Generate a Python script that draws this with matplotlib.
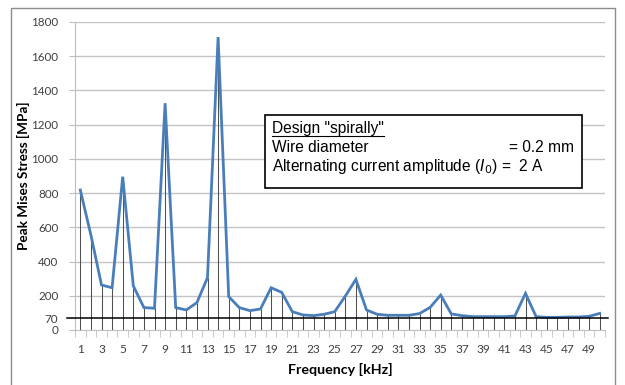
import matplotlib
matplotlib.use("Agg")
import matplotlib.pyplot as plt
from matplotlib.patches import Rectangle
from matplotlib.lines import Line2D
import numpy as np

# ---- data ----
frequency_khz = list(range(1, 51))
peak_stress = [818, 555, 263, 247, 896, 258, 131, 127, 1325, 131,
               117, 160, 306, 1712, 195, 131, 113, 123, 247, 220,
               107, 88, 84, 92, 107, 198, 296, 117, 92, 86,
               86, 86, 96, 132, 204, 94, 84, 78, 78, 78,
               78, 82, 214, 78, 74, 74, 76, 76, 80, 97]
xtick_labels = [str(v) for v in range(1, 50, 2)]
ytick_values = [0, 70, 200, 400, 600, 800, 1000, 1200, 1400, 1600, 1800]
threshold = 70

W, H = 625, 385
fig = plt.figure(figsize=(W / 100, H / 100), dpi=100)
fig.patch.set_facecolor("white")

def fx(px):
    return px / W

def fy(py):
    return 1 - py / H

# outer chart frame
fig.add_artist(Rectangle((fx(11), fy(395)), fx(615) - fx(11), fy(8) - fy(395),
                         transform=fig.transFigure, fill=False,
                         edgecolor="#8c8c8c", lw=1.0))

ax = fig.add_axes([fx(75), fy(330), fx(605) - fx(75), fy(22) - fy(330)])
ax.set_xlim(0.5, 50.5)
ax.set_ylim(0, 1800)

tick_font = "Lato"
# gridlines
for v in ytick_values:
    if v >= 200:
        ax.axhline(v, color="#c4c4c4", lw=1.0, zorder=1)

# drop lines
ax.vlines(frequency_khz, 0, peak_stress, color="#505050", lw=0.75, zorder=2)

# data line
ax.plot(frequency_khz, peak_stress, color="#4a7ebb", lw=2.0, zorder=4,
        solid_joinstyle="miter")

# threshold line at 70 (extends slightly beyond axes)
ax.plot([-8 / 530, 1 + 3 / 530], [threshold, threshold],
        transform=ax.get_yaxis_transform(), color="black", lw=1.1,
        clip_on=False, zorder=5)

# spines
for s in ["top", "right"]:
    ax.spines[s].set_visible(False)
ax.spines["left"].set_color("#bfbfbf")
ax.spines["bottom"].set_color("#bfbfbf")

ax.set_yticks(ytick_values)
ax.set_yticklabels([str(v) for v in ytick_values], fontsize=8.4,
                   family=tick_font, color="#404040")
ax.tick_params(axis="y", length=4, color="#bfbfbf", pad=8)

ax.set_xticks(range(1, 50, 2))
ax.set_xticklabels(xtick_labels, fontsize=8.6, family=tick_font, color="#404040")
ax.tick_params(axis="x", length=0, pad=10)
ax.set_xticks(np.arange(0.5, 51, 1), minor=True)
ax.tick_params(axis="x", which="minor", length=5, color="#bfbfbf")

ax.set_xlabel("Frequency [kHz]", fontsize=10.3, fontweight="bold",
              family=tick_font)
ax.set_ylabel("Peak Mises Stress [MPa]", fontsize=9.8, fontweight="bold",
              family=tick_font)
ax.xaxis.set_label_coords(0.5, -(363 - 330) / 308)
ax.yaxis.set_label_coords(-(75 - 30) / 530, 0.5)

# annotation box
fig.add_artist(Rectangle((fx(265), fy(188)), fx(582) - fx(265), fy(115) - fy(188),
                         transform=fig.transFigure, facecolor="white",
                         edgecolor="black", lw=1.2, zorder=10))
box_font = "Liberation Sans"
fs_box = 11.2
t1 = fig.text(fx(272), fy(133), 'Design "spirally"', fontsize=fs_box,
              family=box_font, va="baseline", zorder=11)
fig.text(fx(272), fy(152), "Wire diameter", fontsize=fs_box,
         family=box_font, va="baseline", zorder=11)
fig.text(fx(574), fy(152), "= 0.2 mm", fontsize=fs_box, ha="right",
         family=box_font, va="baseline", zorder=11)
fig.text(fx(272), fy(171), r"Alternating current amplitude ($I_0$) =  2 A",
         fontsize=fs_box, family=box_font, va="baseline", zorder=11)

fig.canvas.draw()
bb = t1.get_window_extent()
uy = fy(135.5)
fig.add_artist(Line2D([bb.x0 / W, bb.x1 / W], [uy, uy], color="black", lw=0.8,
                      transform=fig.transFigure, zorder=11))

fig.savefig("out.png", dpi=100, facecolor="white")
